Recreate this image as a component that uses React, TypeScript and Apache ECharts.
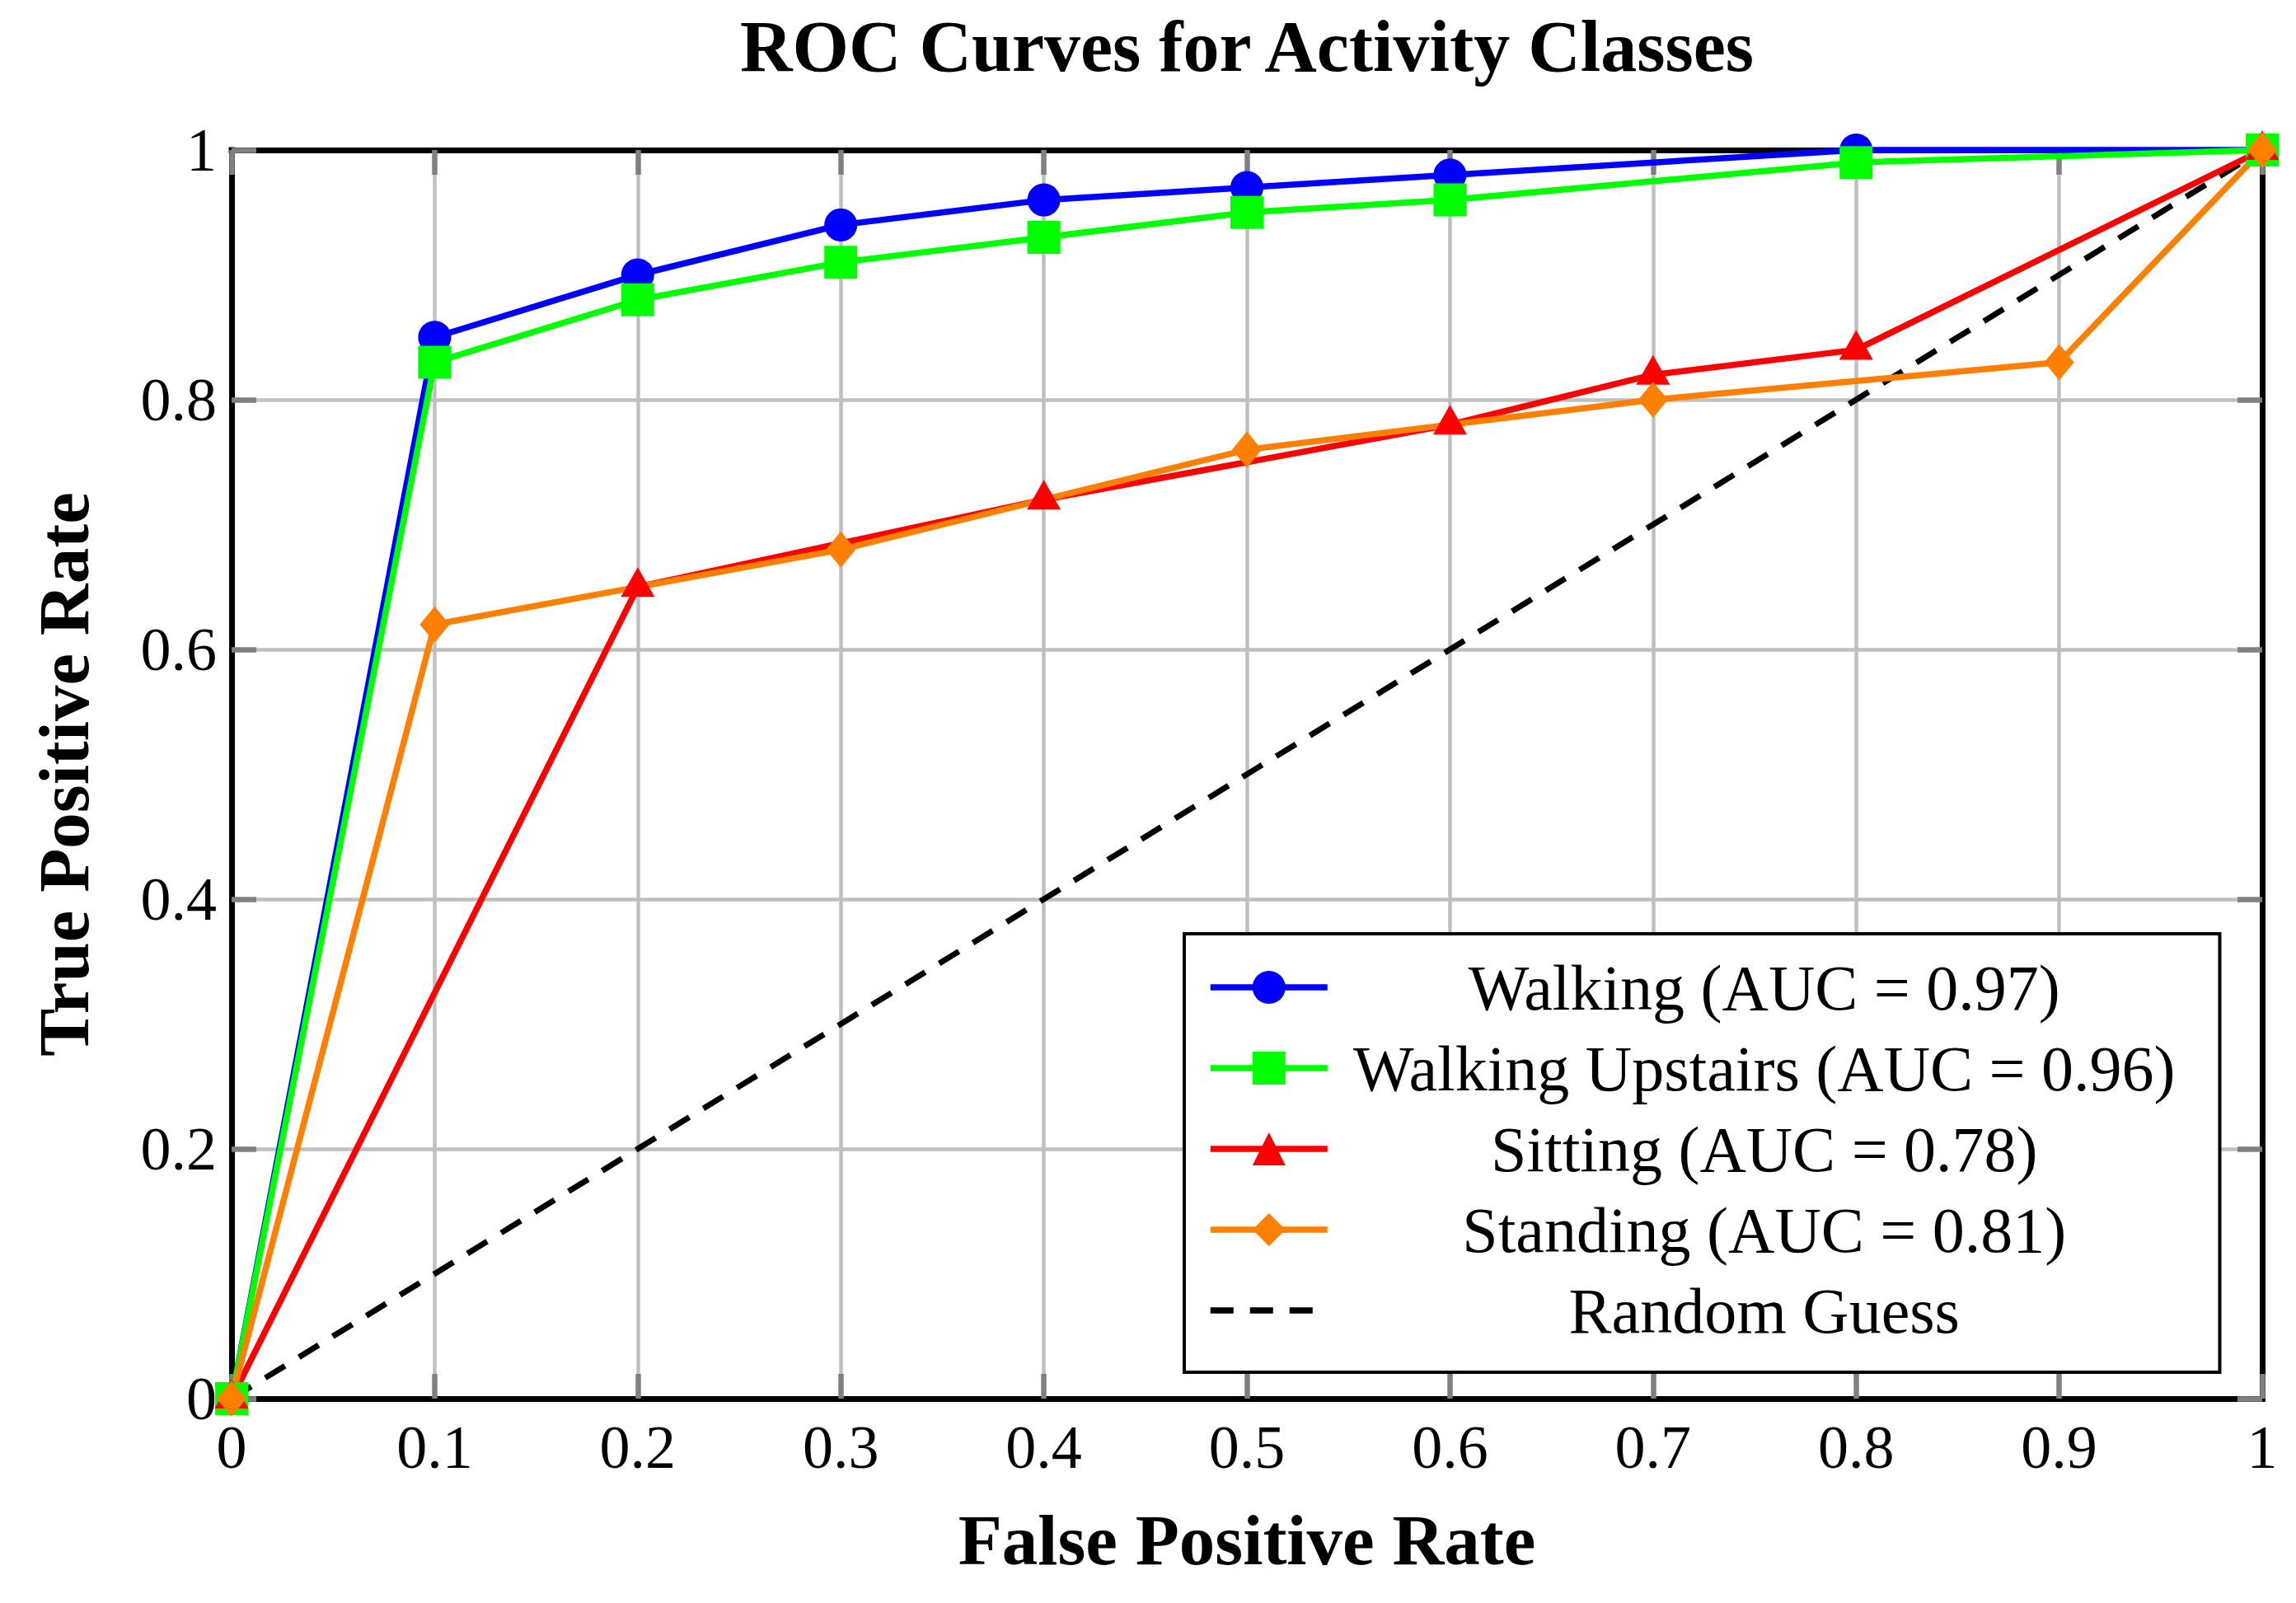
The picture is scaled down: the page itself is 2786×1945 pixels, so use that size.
import { useEffect, useRef } from 'react';
import * as echarts from 'echarts';

// ROC curve points
const walkingX = [0, 0.1, 0.2, 0.3, 0.4, 0.5, 0.6, 0.8, 1];
const walkingY = [0, 0.85, 0.9, 0.94, 0.96, 0.97, 0.98, 1.0, 1.0];

const upstairsX = [0, 0.1, 0.2, 0.3, 0.4, 0.5, 0.6, 0.8, 1];
const upstairsY = [0, 0.83, 0.88, 0.91, 0.93, 0.95, 0.96, 0.99, 1.0];

const sittingX = [0, 0.2, 0.4, 0.6, 0.7, 0.8, 1];
const sittingY = [0, 0.65, 0.72, 0.78, 0.82, 0.84, 1.0];

const standingX = [0, 0.1, 0.3, 0.5, 0.7, 0.9, 1];
const standingY = [0, 0.62, 0.68, 0.76, 0.8, 0.83, 1.0];

const randomX = [0, 1];
const randomY = [0, 1];

const seriesNames = [
  'Walking (AUC = 0.97)',
  'Walking Upstairs (AUC = 0.96)',
  'Sitting (AUC = 0.78)',
  'Standing (AUC = 0.81)',
  'Random Guess',
];

const FONT = '"Liberation Serif", "DejaVu Serif", serif';

const zip = (xs: number[], ys: number[]) => xs.map((x, i) => [x, ys[i]]);

const tickText = (v: number) => {
  if (v === 0) return '0';
  if (v === 1) return '1';
  return v.toFixed(1);
};

function App() {
  const chartRef = useRef<HTMLDivElement>(null);

  useEffect(() => {
    if (!chartRef.current) return;
    const chart = echarts.init(chartRef.current, null, { renderer: 'svg' });

    const tickStyle = {
      show: true,
      inside: true,
      length: 30,
      lineStyle: { color: '#808080', width: 6.5 },
    };
    const frameLine = {
      show: true,
      onZero: false,
      lineStyle: { color: '#000', width: 7, cap: 'square' as const },
    };
    const splitStyle = {
      show: true,
      showMinLine: false,
      showMaxLine: false,
      lineStyle: { color: '#bfbfbf', width: 4.5 },
    };

    const lineSeries = (
      name: string,
      data: number[][],
      color: string,
      symbol: string,
      symbolSize: number | number[],
      extra: object = {}
    ) => ({
      name,
      type: 'line',
      data,
      color,
      symbol,
      symbolSize,
      showSymbol: true,
      clip: false,
      lineStyle: { color, width: 7.5 },
      itemStyle: { color },
      ...extra,
    });

    chart.setOption({
      animation: false,
      backgroundColor: '#fff',
      textStyle: { fontFamily: FONT },
      title: {
        text: 'ROC Curves for Activity Classes',
        left: 1513,
        top: 12,
        padding: 0,
        textAlign: 'center',
        textStyle: { fontFamily: FONT, fontSize: 88, fontWeight: 'bold', color: '#000' },
      },
      grid: { left: 281, right: 41, top: 182, bottom: 248 },
      legend: {
        orient: 'vertical',
        left: 1437,
        top: 1133,
        padding: [26, 54, 36, 28],
        itemWidth: 142,
        itemHeight: 50,
        itemGap: 20,
        borderColor: '#000',
        borderWidth: 4,
        backgroundColor: '#fff',
        selectedMode: false,
        data: seriesNames,
        lineStyle: { width: 7.5 },
        formatter: (name: string) => `{c|${name}}`,
        textStyle: {
          fontFamily: FONT,
          fontSize: 78,
          color: '#000',
          rich: {
            c: { width: 1050, align: 'center', fontSize: 78, fontFamily: FONT },
          },
        },
      },
      xAxis: [
        {
          type: 'value',
          position: 'bottom',
          min: 0,
          max: 1,
          interval: 0.1,
          name: 'False Positive Rate',
          nameLocation: 'middle',
          nameGap: 128,
          nameTextStyle: { fontFamily: FONT, fontSize: 87, fontWeight: 'bold', color: '#000' },
          axisLine: frameLine,
          axisTick: tickStyle,
          splitLine: splitStyle,
          axisLabel: {
            margin: 22,
            fontFamily: FONT,
            fontSize: 74,
            color: '#000',
            formatter: tickText,
          },
        },
        {
          type: 'value',
          position: 'top',
          min: 0,
          max: 1,
          interval: 0.1,
          axisLine: frameLine,
          axisTick: tickStyle,
          splitLine: { show: false },
          axisLabel: { show: false },
        },
      ],
      yAxis: [
        {
          type: 'value',
          position: 'left',
          min: 0,
          max: 1,
          interval: 0.2,
          name: 'True Positive Rate',
          nameLocation: 'middle',
          nameGap: 160,
          nameTextStyle: { fontFamily: FONT, fontSize: 87, fontWeight: 'bold', color: '#000' },
          axisLine: frameLine,
          axisTick: tickStyle,
          splitLine: splitStyle,
          axisLabel: {
            margin: 18,
            fontFamily: FONT,
            fontSize: 74,
            color: '#000',
            formatter: tickText,
          },
        },
        {
          type: 'value',
          position: 'right',
          min: 0,
          max: 1,
          interval: 0.2,
          axisLine: frameLine,
          axisTick: tickStyle,
          splitLine: { show: false },
          axisLabel: { show: false },
        },
      ],
      series: [
        lineSeries(seriesNames[0], zip(walkingX, walkingY), '#0000ff', 'circle', 40),
        lineSeries(seriesNames[1], zip(upstairsX, upstairsY), '#00ff00', 'rect', 40),
        lineSeries(seriesNames[2], zip(sittingX, sittingY), '#ff0000', 'triangle', [41, 36], {
          symbolOffset: [0, -6],
        }),
        lineSeries(seriesNames[3], zip(standingX, standingY), '#ff8000', 'diamond', [36, 44]),
        {
          name: seriesNames[4],
          type: 'line',
          data: zip(randomX, randomY),
          symbol: 'none',
          clip: false,
          color: '#000',
          lineStyle: { color: '#000', width: 7, type: [28, 20] },
          itemStyle: { color: 'rgba(0,0,0,0)' },
          z: 1,
        },
      ],
    });

    return () => {
      chart.dispose();
    };
  }, []);

  return (
    <div
      ref={chartRef}
      style={{ position: 'fixed', left: 0, top: 0, width: 2786, height: 1945 }}
    />
  );
}

export default App;
